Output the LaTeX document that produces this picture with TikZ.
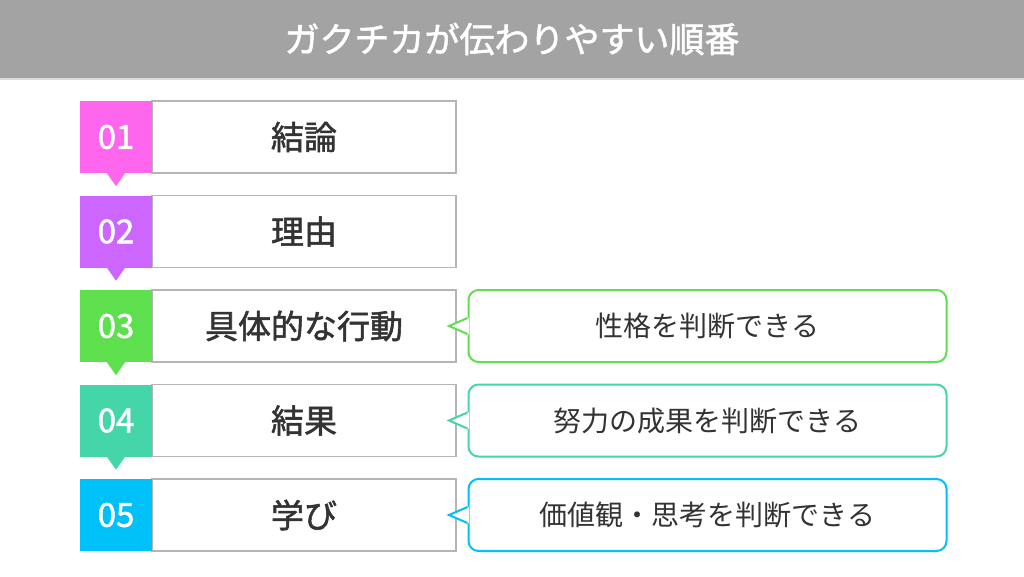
\documentclass[tikz,border=0pt]{standalone}
\usepackage{fontspec}
\usetikzlibrary{calc}
\newfontfamily\jp{Noto Sans CJK JP}
\newfontfamily\jpm{Noto Sans CJK JP}[FakeBold=1.6]
\definecolor{hdrgray}{HTML}{A3A3A3}
\definecolor{linegray}{HTML}{DADADA}
\definecolor{boxgray}{HTML}{B5B5B5}
\definecolor{txt}{HTML}{333333}
\definecolor{c1}{HTML}{FF66EE}
\definecolor{c2}{HTML}{CC66FF}
\definecolor{c3}{HTML}{5EE04E}
\definecolor{c4}{HTML}{44D6A8}
\definecolor{c5}{HTML}{00C0F8}
\tikzset{
  numbox/.style={minimum width=72pt, minimum height=72pt, inner sep=0pt, text=white,
    font=\jpm\fontsize{33}{36}\selectfont},
  mainbox/.style={minimum width=304pt, minimum height=72pt, inner sep=0pt, draw=boxgray,
    line width=1.6pt, fill=white, text=txt, font=\jpm\fontsize{33}{38}\selectfont},
  callbox/.style={minimum width=478pt, minimum height=72pt, inner sep=0pt, rounded corners=10pt,
    line width=2pt, fill=white, text=txt, font=\jp\fontsize{28}{32}\selectfont},
  header/.style={minimum width=1024pt, minimum height=78pt, inner sep=0pt, fill=hdrgray,
    text=white, font=\jpm\fontsize{35}{40}\selectfont}
}
\begin{document}
\begin{tikzpicture}[x=1pt,y=-1pt]
\useasboundingbox (0,0) rectangle (1024,576);
\fill[white] (0,0) rectangle (1024,576);
\node[header] (hdr) at (512,39) {ガクチカが伝わりやすい順番};
\fill[linegray] (hdr.south west) rectangle ($(hdr.south east)+(0,2)$);

% rows
\node[mainbox] (m1) at (304,137) {結論};
\node[numbox, fill=c1] (n1) at (116,137) {01};
\node[mainbox] (m2) at (304,231.5) {理由};
\node[numbox, fill=c2] (n2) at (116,231.5) {02};
\node[mainbox] (m3) at (304,326) {具体的な行動};
\node[numbox, fill=c3] (n3) at (116,326) {03};
\node[mainbox] (m4) at (304,420.5) {結果};
\node[numbox, fill=c4] (n4) at (116,420.5) {04};
\node[mainbox] (m5) at (304,515) {学び};
\node[numbox, fill=c5] (n5) at (116,515) {05};

% pointers below number boxes
\foreach \i/\c in {1/c1,2/c2,3/c3,4/c4}{
  \fill[\c] ($(n\i.south)+(-9.5,-0.5)$) -- ($(n\i.south)+(0,13)$) -- ($(n\i.south)+(9.5,-0.5)$) -- cycle;
}

% callouts
\node[callbox, draw=c3] (k3) at (707.5,326) {性格を判断できる};
\node[callbox, draw=c4] (k4) at (707.5,420.5) {努力の成果を判断できる};
\node[callbox, draw=c5] (k5) at (707.5,515) {価値観・思考を判断できる};
\foreach \i/\c in {3/c3,4/c4,5/c5}{
  \fill[white] ($(k\i.west)+(1.6,-8.5)$) -- ($(k\i.west)+(-18,0)$) -- ($(k\i.west)+(1.6,8.5)$) -- cycle;
  \draw[\c, line width=2pt, line join=miter] ($(k\i.west)+(0,-8)$) -- ($(k\i.west)+(-18.5,0)$) -- ($(k\i.west)+(0,8)$);
}
\end{tikzpicture}
\end{document}
